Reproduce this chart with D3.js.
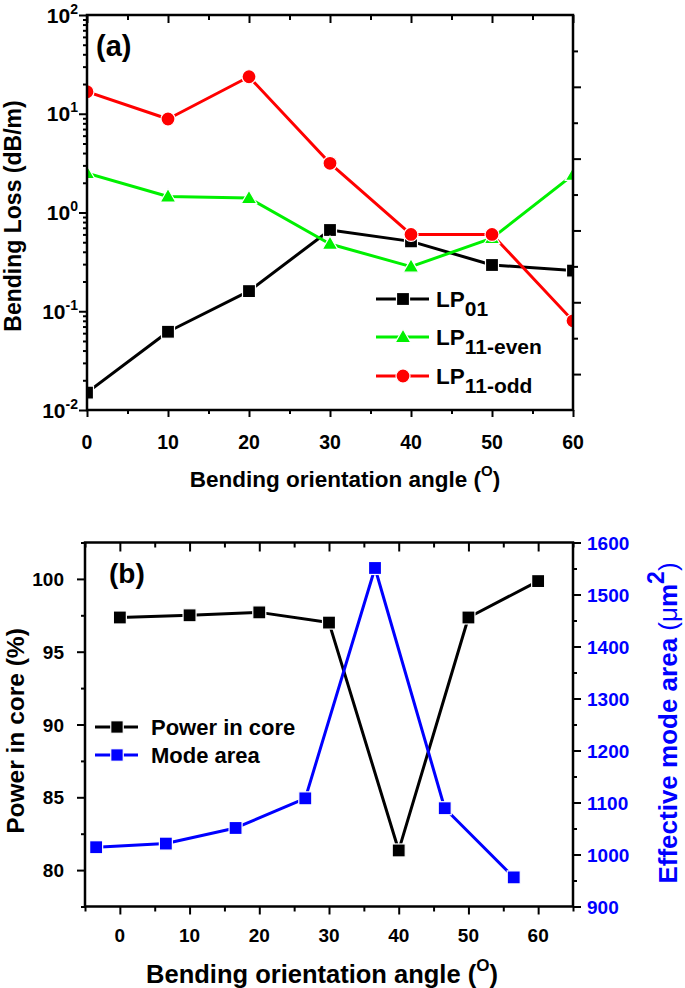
<!DOCTYPE html>
<html><head><meta charset="utf-8">
<script src="https://cdn.jsdelivr.net/npm/d3@7"></script>
<style>
html,body{margin:0;padding:0;background:#fff;}
svg{display:block;font-family:"Liberation Sans",Arial,sans-serif;font-weight:bold;}
</style></head><body>
<svg id="c" width="685" height="988"></svg>
<script>
// ---------- Panel (a) data ----------
const anglesA = [0, 10, 20, 30, 40, 50, 60];
const lp01 = [0.015, 0.062, 0.16, 0.665, 0.51, 0.294, 0.258];
const lp11Even = [2.5, 1.45, 1.40, 0.48, 0.283, 0.55, 2.4];
const lp11Odd = [16.7, 8.85, 23.7, 3.15, 0.60, 0.60, 0.080];
const xTicksA = [0, 10, 20, 30, 40, 50, 60];
const xMinorA = [5, 15, 25, 35, 45, 55];
const yExpA = [-2, -1, 0, 1, 2];
const rightMajorA = [1, 3, 5, 7, 9];
const rightMinorA = [2, 4, 6, 8, 10];

// ---------- Panel (b) data ----------
const anglesB = [0, 10, 20, 30, 40, 50, 60];
const powerInCore = [97.35, 97.5, 97.7, 97.0, 81.35, 97.35, 99.85];
const modeAngles = [-3.4, 6.6, 16.6, 26.6, 36.6, 46.6, 56.5];
const modeArea = [1014, 1021, 1051, 1108, 1551, 1089, 956];
const xTicksB = [0, 10, 20, 30, 40, 50, 60];
const xMinorB = [-5, 5, 15, 25, 35, 45, 55, 65];
const yTicksB = [80, 85, 90, 95, 100];
const yMinorB = [77.5, 82.5, 87.5, 92.5, 97.5, 102.5];
const yTicksBR = [900, 1000, 1100, 1200, 1300, 1400, 1500, 1600];
const yMinorBR = [950, 1050, 1150, 1250, 1350, 1450, 1550];

const RED = "#ff0000", GREEN = "#00f000", BLACK = "#000", BLUE = "#0000ff";
const svg = d3.select("#c");

function ticks(g, axisFn, scale, values, size, tx, ty) {
  const a = axisFn(scale).tickValues(values).tickSizeInner(size).tickSizeOuter(0).tickFormat("");
  const gg = g.append("g").attr("transform", `translate(${tx},${ty})`).call(a);
  gg.select(".domain").remove();
  gg.selectAll(".tick line").attr("stroke", "#000").attr("stroke-width", 2);
  return gg;
}

function square(g, x, y, s, fill) {
  g.append("rect").attr("x", x - s/2).attr("y", y - s/2).attr("width", s).attr("height", s)
    .attr("fill", fill).attr("stroke", "#fff").attr("stroke-width", 1.2);
}
function circle(g, x, y, r, fill) {
  g.append("circle").attr("cx", x).attr("cy", y).attr("r", r)
    .attr("fill", fill).attr("stroke", "#fff").attr("stroke-width", 1.2);
}
const triPath = d3.symbol(d3.symbolTriangle, 105)();
function triangle(g, x, y, fill) {
  g.append("path").attr("d", triPath).attr("transform", `translate(${x},${y + 1})`)
    .attr("fill", fill).attr("stroke", "#fff").attr("stroke-width", 1.2);
}

// =============== Panel (a) ===============
const A = {l: 87, r: 573, t: 15, b: 410};
const xA = d3.scaleLinear().domain([0, 60]).range([A.l, A.r]);
const yA = d3.scaleLog().domain([1e-2, 1e2]).range([A.b, A.t]);
const yAR = d3.scaleLinear().domain([0, 11]).range([A.b, A.t]);
const gA = svg.append("g");

const seriesA = [
  {vals: lp01, color: BLACK, mk: "sq"},
  {vals: lp11Even, color: GREEN, mk: "tri"},
  {vals: lp11Odd, color: RED, mk: "ci"}
];
const lineA = d3.line().x(d => xA(d[0])).y(d => yA(d[1]));
svg.append("defs").append("clipPath").attr("id", "clipA")
  .append("rect").attr("x", A.l).attr("y", A.t).attr("width", A.r - A.l).attr("height", A.b - A.t);
const dataA = gA.append("g").attr("clip-path", "url(#clipA)");
seriesA.forEach(s => {
  const pts = anglesA.map((a, i) => [a, s.vals[i]]);
  dataA.append("path").attr("d", lineA(pts)).attr("fill", "none")
    .attr("stroke", s.color).attr("stroke-width", 3).attr("stroke-linejoin", "round");
});
seriesA.forEach(s => {
  anglesA.forEach((a, i) => {
    const x = xA(a), y = yA(s.vals[i]);
    if (s.mk === "sq") square(dataA, x, y, 13, s.color);
    else if (s.mk === "tri") triangle(dataA, x, y, s.color);
    else circle(dataA, x, y, 7, s.color);
  });
});

gA.append("rect").attr("x", A.l).attr("y", A.t).attr("width", A.r - A.l).attr("height", A.b - A.t)
  .attr("fill", "none").attr("stroke", "#000").attr("stroke-width", 2.5);

ticks(gA, d3.axisBottom, xA, xTicksA, 7, 0, A.b);
ticks(gA, d3.axisBottom, xA, xMinorA, 4, 0, A.b);
ticks(gA, d3.axisTop, xA, xTicksA, -8, 0, A.t);
ticks(gA, d3.axisTop, xA, xMinorA, -5, 0, A.t);
const decA = yExpA.map(e => Math.pow(10, e));
const minorLogA = [];
yExpA.slice(0, -1).forEach(e => { for (let m = 2; m <= 9; m++) minorLogA.push(m * Math.pow(10, e)); });
ticks(gA, d3.axisLeft, yA, decA, 8, A.l, 0);
ticks(gA, d3.axisLeft, yA, minorLogA, 4, A.l, 0);
ticks(gA, d3.axisRight, yAR, rightMajorA, 8, A.r, 0);
ticks(gA, d3.axisRight, yAR, rightMinorA, 5, A.r, 0);

xTicksA.forEach(v => {
  gA.append("text").attr("x", xA(v)).attr("y", 449).attr("text-anchor", "middle")
    .attr("font-size", 19.5).text(v);
});
yExpA.forEach(e => {
  const t = gA.append("text").attr("x", 78).attr("y", yA(Math.pow(10, e)) + 7.5)
    .attr("text-anchor", "end").attr("font-size", 21);
  t.append("tspan").text("10");
  t.append("tspan").attr("font-size", 14).attr("dy", -9).text(String(e));
});

gA.append("text").attr("transform", "translate(21,216) rotate(-90)").attr("text-anchor", "middle")
  .attr("font-size", 23).text("Bending Loss (dB/m)");
const xtA = gA.append("text").attr("x", 345).attr("y", 487).attr("text-anchor", "middle").attr("font-size", 22.5);
xtA.append("tspan").text("Bending orientation angle (");
xtA.append("tspan").attr("font-size", 15).attr("dy", -11).text("O");
xtA.append("tspan").attr("dy", 11).text(")");

gA.append("text").attr("x", 96).attr("y", 56).attr("font-size", 29).text("(a)");

const legA = [
  {name: "LP", sub: "01", color: BLACK, mk: "sq", y: 299},
  {name: "LP", sub: "11-even", color: GREEN, mk: "tri", y: 337},
  {name: "LP", sub: "11-odd", color: RED, mk: "ci", y: 376}
];
legA.forEach(d => {
  gA.append("line").attr("x1", 376).attr("x2", 429).attr("y1", d.y).attr("y2", d.y)
    .attr("stroke", d.color).attr("stroke-width", 3);
  if (d.mk === "sq") square(gA, 403, d.y, 13, d.color);
  else if (d.mk === "tri") triangle(gA, 403, d.y, d.color);
  else circle(gA, 403, d.y, 7, d.color);
  const t = gA.append("text").attr("x", 436).attr("y", d.y + 8).attr("font-size", 22.5);
  t.append("tspan").text(d.name);
  t.append("tspan").attr("font-size", 21).attr("dy", 9).text(d.sub);
});

// =============== Panel (b) ===============
const B = {l: 85, r: 573, t: 542.5, b: 906.5};
const xB = d3.scaleLinear().domain([-5, 65]).range([B.l, B.r]);
const yB = d3.scaleLinear().domain([77.5, 102.5]).range([B.b, B.t]);
const yBR = d3.scaleLinear().domain([900, 1600]).range([B.b, B.t]);
const gB = svg.append("g");

const lineP = d3.line().x(d => xB(d[0])).y(d => yB(d[1]));
const lineM = d3.line().x(d => xB(d[0])).y(d => yBR(d[1]));
gB.append("path").attr("d", lineP(anglesB.map((a, i) => [a, powerInCore[i]])))
  .attr("fill", "none").attr("stroke", BLACK).attr("stroke-width", 3).attr("stroke-linejoin", "round");
gB.append("path").attr("d", lineM(modeAngles.map((a, i) => [a, modeArea[i]])))
  .attr("fill", "none").attr("stroke", BLUE).attr("stroke-width", 3).attr("stroke-linejoin", "round");
anglesB.forEach((a, i) => square(gB, xB(a), yB(powerInCore[i]), 13, BLACK));
modeAngles.forEach((a, i) => square(gB, xB(a), yBR(modeArea[i]), 13, BLUE));

gB.append("rect").attr("x", B.l).attr("y", B.t).attr("width", B.r - B.l).attr("height", B.b - B.t)
  .attr("fill", "none").attr("stroke", "#000").attr("stroke-width", 2.5);

ticks(gB, d3.axisBottom, xB, xTicksB, 8, 0, B.b);
ticks(gB, d3.axisBottom, xB, xMinorB, 5, 0, B.b);
ticks(gB, d3.axisTop, xB, xTicksB, -9, 0, B.t);
ticks(gB, d3.axisTop, xB, xMinorB, -5, 0, B.t);
ticks(gB, d3.axisLeft, yB, yTicksB, 8, B.l, 0);
ticks(gB, d3.axisLeft, yB, yMinorB, 4, B.l, 0);
ticks(gB, d3.axisRight, yBR, yTicksBR, 8, B.r, 0);
ticks(gB, d3.axisRight, yBR, yMinorBR, 4, B.r, 0);

xTicksB.forEach(v => {
  gB.append("text").attr("x", xB(v)).attr("y", 942).attr("text-anchor", "middle")
    .attr("font-size", 19).text(v);
});
yTicksB.forEach(v => {
  gB.append("text").attr("x", 64).attr("y", yB(v) + 7).attr("text-anchor", "end")
    .attr("font-size", 19).text(v);
});
yTicksBR.forEach(v => {
  gB.append("text").attr("x", 587).attr("y", yBR(v) + 7).attr("text-anchor", "start")
    .attr("font-size", 19).attr("fill", BLUE).text(v);
});

gB.append("text").attr("transform", "translate(24,731) rotate(-90)").attr("text-anchor", "middle")
  .attr("font-size", 24.5).text("Power in core (%)");
const rt = gB.append("text").attr("transform", "translate(677,723) rotate(-90)").attr("text-anchor", "middle")
  .attr("font-size", 26).attr("fill", BLUE);
rt.append("tspan").text("Effective mode area ");
rt.append("tspan").attr("font-weight", "normal").text("(\u03bc");
rt.append("tspan").text("m");
rt.append("tspan").attr("dy", -13).attr("font-size", 23).text("2");
rt.append("tspan").attr("dy", 13).attr("font-weight", "normal").text(")");

const xtB = gB.append("text").attr("x", 322).attr("y", 983).attr("text-anchor", "middle").attr("font-size", 25.5);
xtB.append("tspan").text("Bending orientation angle (");
xtB.append("tspan").attr("font-size", 17).attr("dy", -12).text("O");
xtB.append("tspan").attr("dy", 12).text(")");

gB.append("text").attr("x", 109).attr("y", 583).attr("font-size", 28).text("(b)");

const legB = [
  {name: "Power in core", color: BLACK, y: 727},
  {name: "Mode area", color: BLUE, y: 755}
];
legB.forEach(d => {
  gB.append("line").attr("x1", 95).attr("x2", 138).attr("y1", d.y).attr("y2", d.y)
    .attr("stroke", d.color).attr("stroke-width", 3);
  square(gB, 117, d.y, 12.5, d.color);
  gB.append("text").attr("x", 151).attr("y", d.y + 7.5).attr("font-size", 22).text(d.name);
});
</script>
</body></html>
